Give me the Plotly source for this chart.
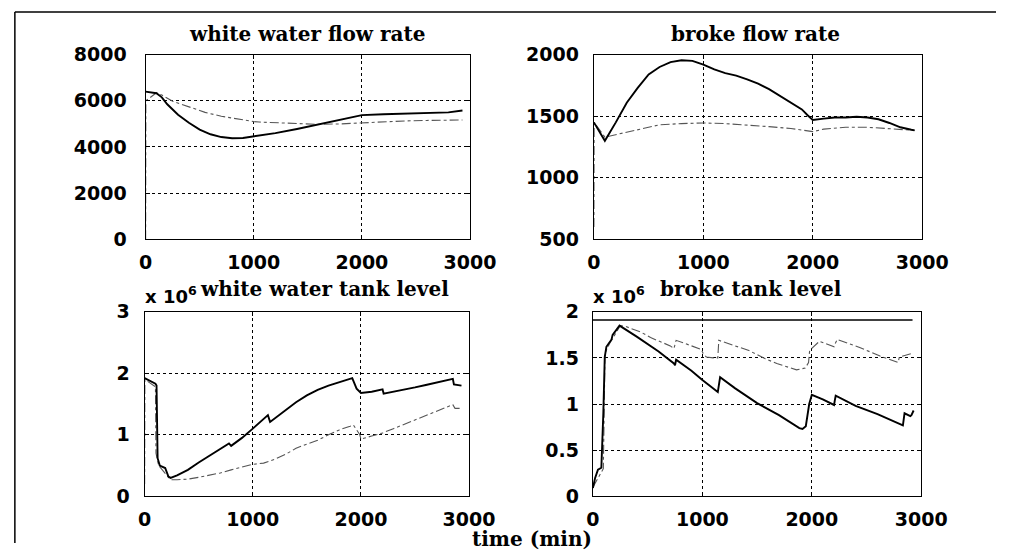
import plotly.graph_objects as go

# ---------------- data ----------------
ww_flow_t_solid = [0, 100, 150, 200, 300, 400, 500, 600, 700, 800, 900, 1000, 1200, 1400, 1600, 1800, 2000, 2200, 2400, 2600, 2800, 2930]
ww_flow_solid = [6400, 6330, 6150, 5850, 5400, 5050, 4750, 4550, 4430, 4380, 4390, 4450, 4600, 4780, 4980, 5180, 5380, 5420, 5440, 5460, 5500, 5580]
ww_flow_t_dash = [0, 2, 100, 150, 250, 400, 550, 700, 850, 1000, 1050, 1200, 1400, 1600, 1800, 2000, 2200, 2400, 2600, 2800, 2930]
ww_flow_dash = [0, 6000, 6350, 6250, 5980, 5750, 5500, 5330, 5200, 5100, 5080, 5050, 5000, 4980, 5000, 5050, 5100, 5130, 5150, 5160, 5170]

bk_flow_t_solid = [0, 100, 200, 300, 400, 500, 600, 700, 800, 900, 1000, 1100, 1200, 1300, 1400, 1500, 1600, 1700, 1800, 1900, 1950, 2000, 2100, 2200, 2300, 2400, 2500, 2600, 2700, 2800, 2900, 2930]
bk_flow_solid = [1450, 1300, 1450, 1610, 1730, 1840, 1900, 1940, 1955, 1950, 1920, 1880, 1850, 1830, 1800, 1765, 1720, 1665, 1610, 1555, 1510, 1470, 1480, 1490, 1490, 1495, 1490, 1475, 1445, 1410, 1390, 1385]
bk_flow_t_dash = [0, 2, 100, 200, 300, 400, 500, 600, 800, 1000, 1200, 1400, 1600, 1800, 1950, 2000, 2100, 2300, 2500, 2700, 2930]
bk_flow_dash = [600, 1450, 1330, 1350, 1375, 1395, 1415, 1430, 1440, 1445, 1440, 1430, 1415, 1400, 1385, 1375, 1395, 1410, 1410, 1400, 1385]

ww_tank_t_solid = [0, 100, 110, 120, 140, 190, 220, 240, 300, 400, 500, 600, 700, 780, 800, 900, 1000, 1100, 1140, 1160, 1300, 1400, 1500, 1600, 1700, 1800, 1900, 1920, 1960, 2000, 2100, 2200, 2210, 2300, 2400, 2500, 2600, 2700, 2800, 2850, 2860, 2930]
ww_tank_solid = [1.92, 1.83, 1.80, 0.62, 0.50, 0.46, 0.32, 0.30, 0.34, 0.43, 0.55, 0.66, 0.78, 0.86, 0.82, 0.95, 1.10, 1.25, 1.32, 1.21, 1.40, 1.53, 1.64, 1.73, 1.80, 1.86, 1.91, 1.92, 1.75, 1.68, 1.70, 1.74, 1.67, 1.70, 1.73, 1.77, 1.81, 1.85, 1.89, 1.91, 1.82, 1.80]
ww_tank_t_dash = [0, 2, 100, 105, 130, 200, 240, 300, 400, 500, 600, 700, 800, 900, 1000, 1100, 1200, 1300, 1400, 1500, 1600, 1700, 1800, 1900, 1930, 1990, 2000, 2100, 2200, 2300, 2400, 2500, 2600, 2700, 2800, 2850, 2870, 2930]
ww_tank_dash = [0.2, 1.9, 1.78, 0.7, 0.5, 0.35, 0.27, 0.27, 0.28, 0.31, 0.34, 0.38, 0.43, 0.47, 0.52, 0.54, 0.60, 0.68, 0.78, 0.85, 0.91, 1.00, 1.08, 1.14, 1.16, 1.0, 0.93, 0.98, 1.03, 1.10, 1.17, 1.24, 1.31, 1.38, 1.45, 1.49, 1.43, 1.43]

bk_tank_t_solid = [0, 20, 46, 77, 95, 100, 108, 123, 153, 170, 180, 228, 243, 400, 600, 740, 750, 760, 900, 1000, 1141, 1150, 1162, 1300, 1500, 1700, 1886, 1915, 1945, 1976, 2000, 2100, 2203, 2210, 2218, 2400, 2600, 2832, 2840, 2847, 2900, 2910, 2930]
bk_tank_solid = [0.09, 0.2, 0.29, 0.31, 0.9, 1.3, 1.51, 1.62, 1.67, 1.70, 1.75, 1.83, 1.85, 1.73, 1.57, 1.44, 1.42, 1.48, 1.36, 1.26, 1.13, 1.20, 1.29, 1.17, 1.01, 0.88, 0.74, 0.73, 0.76, 1.0, 1.10, 1.05, 0.99, 1.04, 1.09, 0.98, 0.89, 0.77, 0.83, 0.90, 0.87, 0.88, 0.93]
bk_tank_t_dash = [0, 95, 100, 110, 150, 250, 300, 437, 527, 600, 707, 740, 760, 901, 991, 1006, 1036, 1100, 1141, 1150, 1336, 1425, 1575, 1680, 1860, 1940, 1970, 1980, 2069, 2203, 2215, 2233, 2443, 2623, 2787, 2800, 2920]
bk_tank_dash = [0.1, 0.3, 0.7, 1.55, 1.65, 1.85, 1.84, 1.78, 1.72, 1.68, 1.63, 1.60, 1.69, 1.63, 1.59, 1.55, 1.51, 1.50, 1.50, 1.69, 1.61, 1.58, 1.49, 1.44, 1.37, 1.39, 1.45, 1.58, 1.68, 1.62, 1.66, 1.70, 1.61, 1.52, 1.45, 1.51, 1.55]
bk_tank_t_max = [0, 2920]
bk_tank_max = [1.91, 1.91]

x_ticks = [0, 1000, 2000, 3000]
titles = ["white water flow rate", "broke flow rate", "white water tank level", "broke tank level"]

# the page places the plotting paper at (X0, Y0) with size PW x PH on screen
X0, Y0, PW, PH = 2, 8, 1006, 536

def px(x):
    return (x - X0) / PW

def py(y):
    return 1 - (y - Y0) / PH

fig = go.Figure()

solid = dict(color="black", width=1.9)
dash = dict(color="#555555", width=1.1, dash="dashdot")

panels = [
    (ww_flow_t_solid, ww_flow_solid, ww_flow_t_dash, ww_flow_dash),
    (bk_flow_t_solid, bk_flow_solid, bk_flow_t_dash, bk_flow_dash),
    (ww_tank_t_solid, ww_tank_solid, ww_tank_t_dash, ww_tank_dash),
    (bk_tank_t_solid, bk_tank_solid, bk_tank_t_dash, bk_tank_dash),
]
for i, (ts, vs, td, vd) in enumerate(panels):
    xa = "x" if i == 0 else f"x{i+1}"
    ya = "y" if i == 0 else f"y{i+1}"
    fig.add_trace(go.Scatter(x=td, y=vd, mode="lines", line=dash, xaxis=xa, yaxis=ya, showlegend=False))
    fig.add_trace(go.Scatter(x=ts, y=vs, mode="lines", line=solid, xaxis=xa, yaxis=ya, showlegend=False))
fig.add_trace(go.Scatter(x=bk_tank_t_max, y=bk_tank_max, mode="lines", line=dict(color="black", width=1.5),
                         xaxis="x4", yaxis="y4", showlegend=False))

tick_font = dict(family="DejaVu Sans", size=19, color="black", weight="bold")
exp_font = dict(family="DejaVu Sans", size=18, color="black", weight="bold")
title_font = dict(family="DejaVu Serif", size=20, color="black", weight="bold")

common = dict(showline=True, linecolor="black", linewidth=1.2, mirror="allticks",
              ticks="inside", ticklen=4, tickcolor="black",
              showgrid=True, gridcolor="black", griddash="dot", gridwidth=1,
              zeroline=False, tickfont=tick_font)

xdoms = [(143, 473), (599, 933), (142, 472), (598, 932)]
ydoms = [(52, 238), (52, 238), (311, 497), (311, 497)]
yranges = [(0, 8000), (500, 2000), (0, 3), (0, 2)]
yticks = [[0, 2000, 4000, 6000, 8000], [500, 1000, 1500, 2000], [0, 1, 2, 3], [0, 0.5, 1, 1.5, 2]]
ystand = [14, 10, 10, 9]

layout = dict(width=1022, height=554, margin=dict(l=0, r=0, t=0, b=0),
              paper_bgcolor="white", plot_bgcolor="white", showlegend=False)
for i in range(4):
    xk = "xaxis" if i == 0 else f"xaxis{i+1}"
    yk = "yaxis" if i == 0 else f"yaxis{i+1}"
    xa = "x" if i == 0 else f"x{i+1}"
    ya = "y" if i == 0 else f"y{i+1}"
    layout[xk] = dict(common, domain=[px(xdoms[i][0]), px(xdoms[i][1])], range=[0, 3000],
                      tickvals=x_ticks, anchor=ya, ticklabelstandoff=6)
    layout[yk] = dict(common, domain=[py(ydoms[i][1]), py(ydoms[i][0])], range=list(yranges[i]),
                      tickvals=yticks[i], anchor=xa, ticklabelstandoff=ystand[i])
fig.update_layout(**layout)

# titles
title_pos = [(307, 31), (763, 31), (325, 288), (759, 288)]
for txt, (x, y) in zip(titles, title_pos):
    fig.add_annotation(text=txt, x=px(x), y=py(y), xref="paper", yref="paper",
                       showarrow=False, font=title_font, xanchor="center", yanchor="middle")

# exponent labels
for x0 in (140, 596):
    fig.add_annotation(text="x 10<sup>6</sup>", x=px(x0), y=py(294), xref="paper", yref="paper",
                       showarrow=False, font=exp_font, xanchor="left", yanchor="middle")

fig.add_annotation(text="time (min)", x=px(536), y=py(540), xref="paper", yref="paper",
                   showarrow=False, font=title_font, xanchor="center", yanchor="middle")

# outer frame (left and top edges visible)
fig.add_shape(type="line", xref="paper", yref="paper", x0=px(10), x1=px(10), y0=0, y1=py(9),
              line=dict(color="black", width=1.5))
fig.add_shape(type="line", xref="paper", yref="paper", x0=px(10), x1=1, y0=py(9), y1=py(9),
              line=dict(color="black", width=1.5))

fig.write_html("out.html")
